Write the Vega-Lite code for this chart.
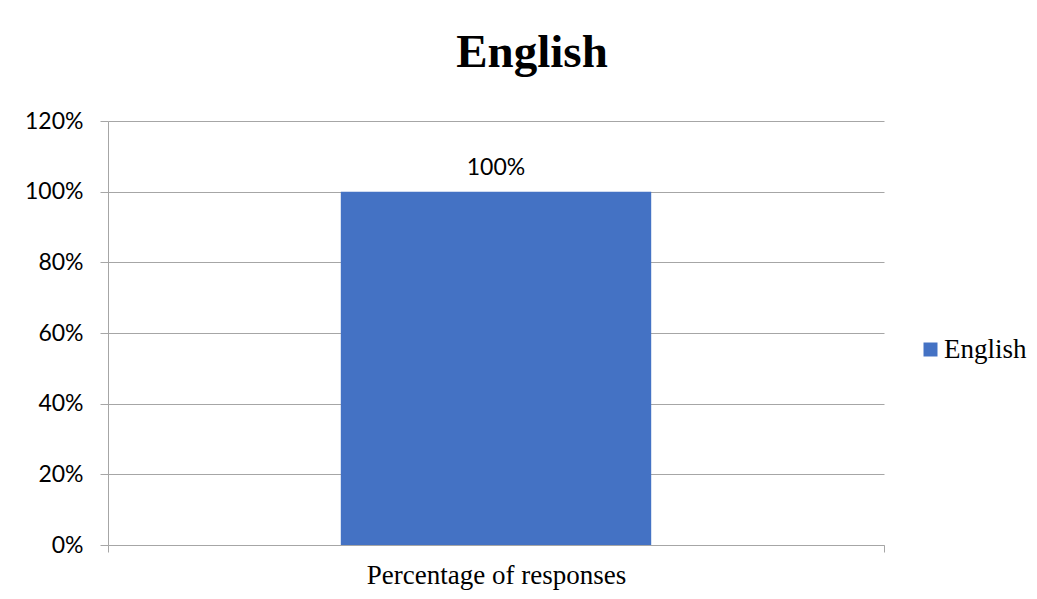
{
  "$schema": "https://vega.github.io/schema/vega-lite/v6.json",
  "width": 776,
  "height": 424,
  "autosize": "none",
  "padding": {"left": 108, "top": 121, "right": 153, "bottom": 54},
  "background": "white",
  "title": {
    "text": "English",
    "font": "Liberation Serif",
    "fontSize": 47,
    "fontWeight": "bold",
    "color": "#000000",
    "anchor": "middle",
    "frame": "group",
    "baseline": "alphabetic",
    "offset": -4,
    "dx": 36
  },
  "data": {
    "values": [
      {"category": "Percentage of responses", "series": "English", "value": 1.0}
    ]
  },
  "encoding": {
    "x": {
      "field": "category",
      "type": "nominal",
      "scale": {"paddingInner": 0, "paddingOuter": 0},
      "axis": {
        "title": null,
        "labelAngle": 0,
        "labelLimit": 0,
        "labelFont": "Liberation Serif",
        "labelFontSize": 27,
        "labelColor": "#000000",
        "labelBaseline": "alphabetic",
        "labelPadding": 31,
        "tickBand": "extent",
        "tickSize": 7,
        "tickColor": "#a6a6a6",
        "domainColor": "#a6a6a6",
        "grid": false
      }
    },
    "y": {
      "field": "value",
      "type": "quantitative",
      "scale": {"domain": [0, 1.2], "nice": false},
      "axis": {
        "title": null,
        "values": [0, 0.2, 0.4, 0.6, 0.8, 1.0, 1.2],
        "format": ".0%",
        "labelFont": "Lato",
        "labelFontSize": 23,
        "labelColor": "#000000",
        "labelPadding": 17,
        "tickSize": 8,
        "tickColor": "#a6a6a6",
        "domainColor": "#a6a6a6",
        "gridColor": "#a6a6a6",
        "grid": true
      }
    }
  },
  "layer": [
    {
      "mark": {"type": "bar", "width": {"band": 0.4}},
      "encoding": {
        "color": {
          "field": "series",
          "type": "nominal",
          "scale": {"range": ["#4472C4"]},
          "legend": {
            "title": null,
            "orient": "none",
            "legendX": 809,
            "legendY": 215,
            "symbolType": "square",
            "symbolSize": 196,
            "symbolStrokeWidth": 0,
            "symbolOpacity": 1,
            "labelFont": "Liberation Serif",
            "labelFontSize": 27,
            "labelColor": "#000000",
            "labelOffset": 0
          }
        }
      }
    },
    {
      "mark": {
        "type": "text",
        "baseline": "alphabetic",
        "dy": -17,
        "font": "Lato",
        "fontSize": 23,
        "color": "#000000"
      },
      "encoding": {
        "text": {"field": "value", "type": "quantitative", "format": ".0%"}
      }
    }
  ],
  "config": {
    "view": {"stroke": null}
  }
}
